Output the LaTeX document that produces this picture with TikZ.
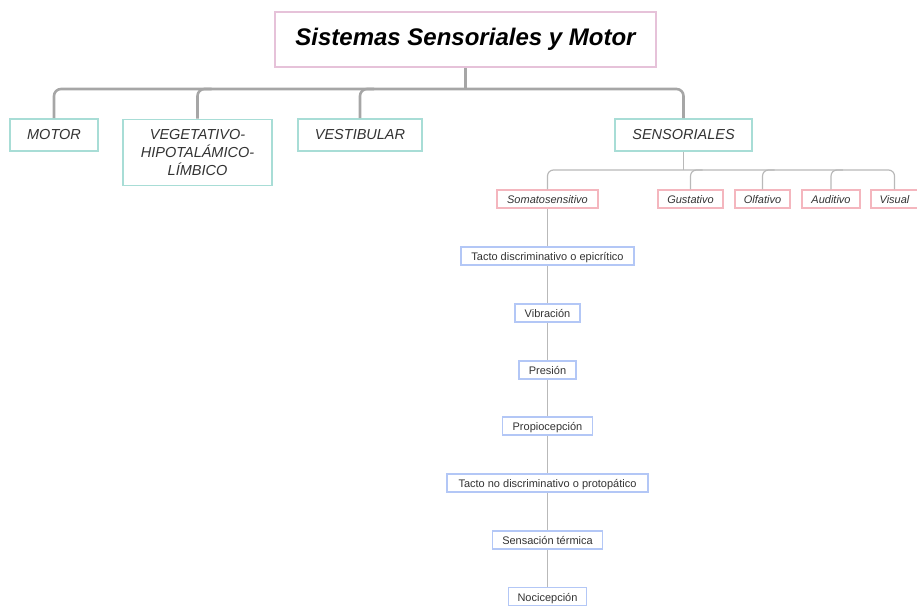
\documentclass[tikz,border=0pt]{standalone}
\usepackage{fontspec}
\setmainfont{Liberation Sans}
\begin{document}
\begin{tikzpicture}[x=1pt,y=-1pt,
  txt/.style={text=black!80},
  lowtext/.style={text height=0.98em, text depth=0em},
  rootbox/.style={draw=rootpink, line width=2pt, fill=white, inner sep=0pt,
    minimum width=381pt, minimum height=55pt, text height=1.22em, text depth=0em,
    font=\fontsize{24}{28}\selectfont\bfseries\itshape, text=black},
  mainbox/.style={draw=tealline, line width=1.6pt, fill=white, inner sep=0pt,
    minimum height=32pt, txt, font=\fontsize{14.5}{18}\selectfont\itshape, align=center},
  sensebox/.style={draw=pinkline, line width=1.1pt, fill=white, inner sep=0pt,
    minimum height=18pt, lowtext, txt, font=\fontsize{11}{13}\selectfont\itshape},
  itembox/.style={draw=blueline, line width=1.1pt, fill=white, inner sep=0pt,
    minimum height=18pt, lowtext, txt, font=\fontsize{11}{13}\selectfont},
  trunk/.style={draw=gray!70, line width=2.6pt, rounded corners=7pt},
  branch/.style={draw=gray!55, line width=1.2pt, rounded corners=6pt},
]
\definecolor{rootpink}{HTML}{E6C2D9}
\definecolor{tealline}{HTML}{A8DDD6}
\definecolor{pinkline}{HTML}{F4B6BE}
\definecolor{blueline}{HTML}{B3C7F6}

\useasboundingbox (0,0) rectangle (917,605);

% connector levels
\coordinate (bus) at (0,89);
\coordinate (sbus) at (0,170);

% root and first level
\node[rootbox] (root) at (465.5,39.5) {Sistemas Sensoriales y Motor};
\node[mainbox, lowtext, minimum width=88pt] (motor) at (54,135) {MOTOR};
\node[mainbox, minimum width=149pt, minimum height=66pt] (veg) at (197.5,152.5)
  {VEGETATIVO-\\HIPOTALÁMICO-\\LÍMBICO};
\node[mainbox, lowtext, minimum width=124pt] (vest) at (360,135) {VESTIBULAR};
\node[mainbox, lowtext, minimum width=137pt] (sens) at (683.5,135) {SENSORIALES};

% senses
\node[sensebox, minimum width=101pt] (soma) at (547.5,199) {Somatosensitivo};
\node[sensebox, minimum width=65pt] (gust) at (690.5,199) {Gustativo};
\node[sensebox, minimum width=55pt] (olf) at (762.5,199) {Olfativo};
\node[sensebox, minimum width=58pt] (aud) at (831,199) {Auditivo};
\node[sensebox, minimum width=47pt] (vis) at (894.5,199) {Visual};

% somatosensory chain
\node[itembox, minimum width=173pt] (tdis) at (547.5,256) {Tacto discriminativo o epicrítico};
\node[itembox, minimum width=65pt] (vib) at (547.5,313) {Vibración};
\node[itembox, minimum width=57pt] (pres) at (547.5,370) {Presión};
\node[itembox, minimum width=90pt] (prop) at (547.5,426) {Propiocepción};
\node[itembox, minimum width=201pt] (tnod) at (547.5,483) {Tacto no discriminativo o protopático};
\node[itembox, minimum width=110pt] (term) at (547.5,540) {Sensación térmica};
\node[itembox, minimum width=78pt] (noci) at (547.5,596.5) {Nocicepción};

% first-level connectors
\draw[trunk] (root.south) -- (root.south |- bus);
\draw[trunk] (motor.north) -- (motor.north |- bus) -- (sens.north |- bus) -- (sens.north);
\draw[trunk] (veg.north) -- (veg.north |- bus) -- ++(14,0);
\draw[trunk] (vest.north) -- (vest.north |- bus) -- ++(14,0);

% sense connectors
\draw[branch] (sens.south) -- (sens.south |- sbus);
\draw[branch] (soma.north) -- (soma.north |- sbus) -- (vis.north |- sbus) -- (vis.north);
\draw[branch] (gust.north) -- (gust.north |- sbus) -- ++(12,0);
\draw[branch] (olf.north) -- (olf.north |- sbus) -- ++(12,0);
\draw[branch] (aud.north) -- (aud.north |- sbus) -- ++(12,0);

% chain connectors
\foreach \a/\b in {soma/tdis, tdis/vib, vib/pres, pres/prop, prop/tnod, tnod/term, term/noci}
  \draw[branch] (\a.south) -- (\b.north);
\end{tikzpicture}
\end{document}
